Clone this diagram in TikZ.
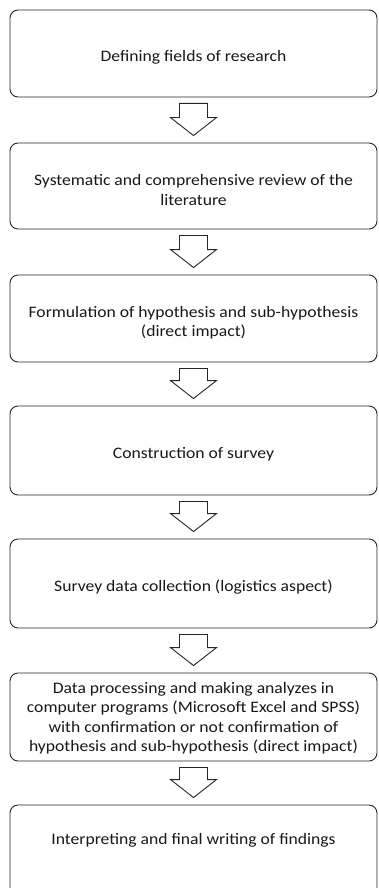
\documentclass[tikz,border=0pt]{standalone}
\usepackage{fontspec}
\setmainfont[FakeStretch=1.1]{Carlito}
\usetikzlibrary{calc}
\tikzset{
  box/.style={draw=black!85, line width=0.9pt, rounded corners=8pt, minimum width=367pt, inner sep=0pt},
  txt/.style={font=\fontsize{16}{19.5}\selectfont, align=center, inner sep=0pt, text=black!90},
  blockarrow/.style={draw=black!85, line width=0.9pt, fill=white, line join=miter}
}
\newcommand\blockarr[2]{%
  \draw[blockarrow] ($(#1.south)+(-14,6)$) -- ($(#2.north)+(-14,-25)$) -- ($(#2.north)+(-23,-25)$)
    -- ($(#2.north)+(0,-7)$) -- ($(#2.north)+(23,-25)$) -- ($(#2.north)+(14,-25)$)
    -- ($(#1.south)+(14,6)$) -- cycle;}
\begin{document}
\begin{tikzpicture}[x=1pt,y=-1pt]
\useasboundingbox (0,0) rectangle (378,888);
\fill[white] (0,0) rectangle (378,888);
\node[box, minimum height=87pt] (b1) at (193.5,53.5) {};
\node[box, minimum height=86pt] (b2) at (193.5,186) {};
\node[box, minimum height=87pt] (b3) at (193.5,318.5) {};
\node[box, minimum height=89pt] (b4) at (193.5,450.5) {};
\node[box, minimum height=89pt] (b5) at (193.5,583.5) {};
\node[box, minimum height=88pt] (b6) at (193.5,717) {};
\node[box, minimum height=92pt] (b7) at (193.5,851) {};
\node[txt] (t1) at ([yshift=-4pt]b1.center) {Defining fields of research};
\node[txt] (t2) at ([yshift=-4pt]b2.center) {Systematic and comprehensive review of the\\literature};
\node[txt] (t3) at ([yshift=-4pt]b3.center) {Formulation of hypothesis and sub-hypothesis\\(direct impact)};
\node[txt] (t4) at ([yshift=-4pt]b4.center) {Construction of survey};
\node[txt] (t5) at ([yshift=-4pt]b5.center) {Survey data collection (logistics aspect)};
\node[txt] (t6) at ([yshift=-1pt]b6.center) {Data processing and making analyzes in\\computer programs (Microsoft Excel and SPSS)\\with confirmation or not confirmation of\\hypothesis and sub-hypothesis (direct impact)};
\node[txt] (t7) at ([yshift=-36pt]b7.north) {Interpreting and final writing of findings};
\blockarr{b1}{b2}
\blockarr{b2}{b3}
\blockarr{b3}{b4}
\blockarr{b4}{b5}
\blockarr{b5}{b6}
\blockarr{b6}{b7}
\end{tikzpicture}
\end{document}
